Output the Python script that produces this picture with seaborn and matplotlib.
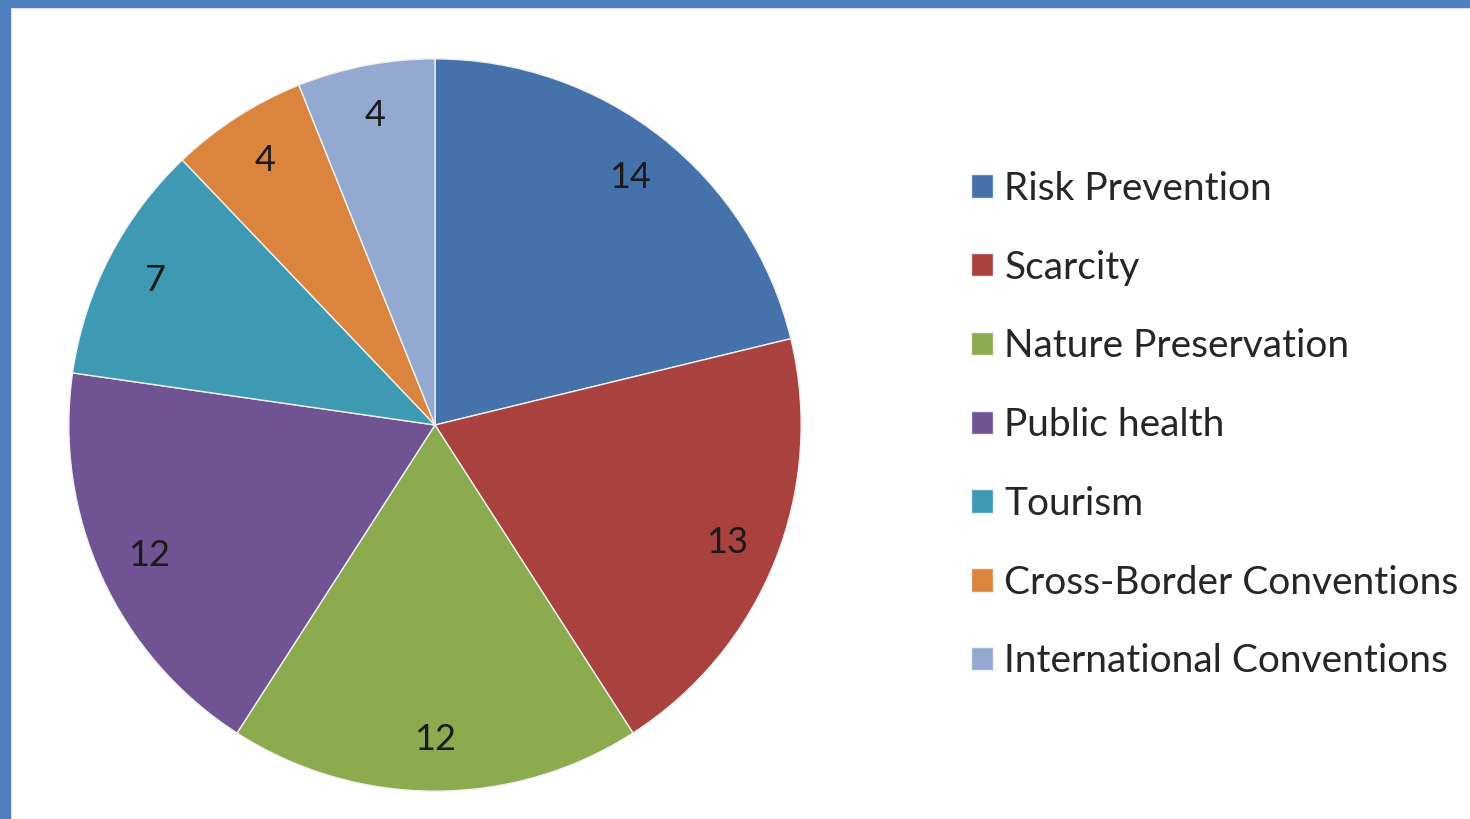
import matplotlib
matplotlib.use("Agg")
import matplotlib.pyplot as plt
import seaborn as sns
from matplotlib.patches import Rectangle

categories = ["Risk Prevention", "Scarcity", "Nature Preservation", "Public health",
              "Tourism", "Cross-Border Conventions", "International Conventions"]
counts = [14, 13, 12, 12, 7, 4, 4]
colors = ["#4672AB", "#A9413F", "#8CAA4E", "#6F5393", "#3D9AB2", "#DB843D", "#93A9D0"]

sns.set_theme(style="white")
plt.rcParams["font.family"] = ["Lato", "DejaVu Sans"]

fig = plt.figure(figsize=(14.7, 8.19), dpi=100)
fig.patch.set_facecolor("white")

# blue frame on left and top
fig.add_artist(Rectangle((0, 0), 10 / 1470, 1, transform=fig.transFigure,
                         color="#4F7FBD", zorder=0))
fig.add_artist(Rectangle((0, 1 - 7 / 819), 1, 7 / 819, transform=fig.transFigure,
                         color="#4F7FBD", zorder=0))

ax = fig.add_axes([(435 - 368) / 1470, (819 - 425 - 368) / 819, 736 / 1470, 736 / 819])
wedges, texts = ax.pie(counts, colors=colors, labels=[str(c) for c in counts],
                       startangle=90, counterclock=False, labeldistance=0.86,
                       wedgeprops=dict(linewidth=1, edgecolor="#f0f0f0"),
                       textprops=dict(fontsize=26, color="#1a1a1a"))
for t in texts:
    t.set_ha("center")
    t.set_va("center")
ax.set_xlim(-1.005, 1.005)
ax.set_ylim(-1.005, 1.005)
ax.set_aspect("equal")

fig.legend(wedges, categories, loc="center left", bbox_to_anchor=(0.637, 0.481),
           frameon=False, fontsize=28, handlelength=0.55, handleheight=0.55,
           handletextpad=0.3, labelspacing=1.1, labelcolor="#262626")

fig.savefig("out.png", dpi=100)
